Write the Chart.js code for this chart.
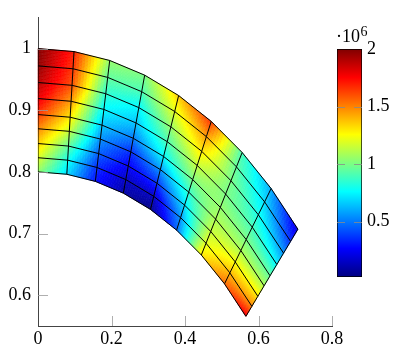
<!DOCTYPE html>
<html><head><meta charset="utf-8">
<script src="https://cdn.jsdelivr.net/npm/chart.js@4/dist/chart.umd.min.js"></script>
<style>
html,body{margin:0;padding:0;background:#fff;}
#wrap{position:relative;width:399px;height:351px;overflow:hidden;}
#main{position:absolute;left:0;top:0;}
#cbar{position:absolute;left:326px;top:20px;}
</style></head><body>
<div id="wrap">
<canvas id="main" width="399" height="351"></canvas>
<canvas id="cbar" width="73" height="280"></canvas>
</div>
<script>
// ---------- data ----------
const radii = [0.8, 0.823, 0.846, 0.870, 0.893, 0.919, 0.945, 0.972, 1.0];
const anglesDeg = [0, 5.625, 11.25, 16.875, 22.5, 28.125, 33.75, 39.375, 45]; // from the y axis
// nodal stress (x 10^6), one array per ring (inner r=0.8 ... outer r=1.0), angle 0..45 deg
const ring0 = [1.05, 0.70, 0.30, 0.10, 0.03, 0.45, 1.30, 1.55, 1.80];
const ring1 = [1.20, 0.80, 0.35, 0.15, 0.15, 0.55, 1.20, 1.40, 1.50];
const ring2 = [1.35, 0.95, 0.45, 0.25, 0.35, 0.70, 1.15, 1.25, 1.30];
const ring3 = [1.50, 1.15, 0.55, 0.35, 0.55, 0.85, 1.10, 1.10, 1.10];
const ring4 = [1.65, 1.30, 0.65, 0.50, 0.75, 1.00, 1.05, 1.00, 0.95];
const ring5 = [1.80, 1.45, 0.75, 0.65, 0.90, 1.15, 1.00, 0.90, 0.75];
const ring6 = [1.90, 1.60, 0.85, 0.75, 1.05, 1.30, 1.00, 0.80, 0.55];
const ring7 = [1.97, 1.65, 0.95, 0.90, 1.20, 1.45, 0.95, 0.70, 0.35];
const ring8 = [2.00, 1.70, 1.05, 1.00, 1.35, 1.65, 0.90, 0.60, 0.20];
const xTicks = [0, 0.2, 0.4, 0.6, 0.8];
const yTicks = [0.6, 0.7, 0.8, 0.9, 1.0];
const cbTicks = [0.5, 1, 1.5, 2];
const cbMin = 0.02, cbMax = 2;

const stress = [ring0, ring1, ring2, ring3, ring4, ring5, ring6, ring7, ring8];
const FONT = "'Liberation Serif', 'DejaVu Serif', serif";

const toXY = (r, deg) => ({x: r * Math.sin(deg * Math.PI / 180), y: r * Math.cos(deg * Math.PI / 180)});
const jetStops = [[0,[0,0,128]],[1/8,[0,0,255]],[3/8,[0,255,255]],[5/8,[255,255,0]],[7/8,[255,0,0]],[1,[128,0,0]]];
function jet(t){
  t = Math.max(0, Math.min(1, t));
  for (let k = 1; k < jetStops.length; k++) {
    if (t <= jetStops[k][0]) {
      const [t0, c0] = jetStops[k-1], [t1, c1] = jetStops[k];
      const f = (t - t0) / (t1 - t0);
      return 'rgb(' + c0.map((c, i) => Math.round(c + (c1[i] - c) * f)).join(',') + ')';
    }
  }
  return 'rgb(128,0,0)';
}
const fmt = v => String(Math.round(v * 10) / 10);

// ---------- mesh lines ----------
const lineStyle = {showLine: true, borderColor: '#000', borderWidth: 1, pointRadius: 0, fill: false, tension: 0};
const datasets = [];
radii.forEach(r => datasets.push(Object.assign({data: anglesDeg.map(a => toXY(r, a))}, lineStyle)));
anglesDeg.forEach(a => datasets.push(Object.assign({data: radii.map(r => toXY(r, a))}, lineStyle)));

const meshFill = {
  id: 'meshFill',
  beforeDatasetsDraw(chart) {
    const {ctx, scales: {x: sx, y: sy}} = chart;
    const N = 12;
    ctx.save();
    for (let i = 0; i < radii.length - 1; i++) for (let j = 0; j < anglesDeg.length - 1; j++) {
      const P00 = toXY(radii[i], anglesDeg[j]), P01 = toXY(radii[i], anglesDeg[j+1]);
      const P10 = toXY(radii[i+1], anglesDeg[j]), P11 = toXY(radii[i+1], anglesDeg[j+1]);
      const V00 = stress[i][j], V01 = stress[i][j+1], V10 = stress[i+1][j], V11 = stress[i+1][j+1];
      const pt = (u, v) => {
        const x = (1-u)*(1-v)*P00.x + u*(1-v)*P01.x + (1-u)*v*P10.x + u*v*P11.x;
        const y = (1-u)*(1-v)*P00.y + u*(1-v)*P01.y + (1-u)*v*P10.y + u*v*P11.y;
        return [sx.getPixelForValue(x), sy.getPixelForValue(y)];
      };
      for (let a = 0; a < N; a++) for (let b = 0; b < N; b++) {
        const c1 = pt(a/N, b/N), c2 = pt((a+1)/N, b/N), c3 = pt((a+1)/N, (b+1)/N), c4 = pt(a/N, (b+1)/N);
        const u = (a + 0.5) / N, v = (b + 0.5) / N;
        const val = (1-u)*(1-v)*V00 + u*(1-v)*V01 + (1-u)*v*V10 + u*v*V11;
        const col = jet((val - cbMin) / (cbMax - cbMin));
        ctx.beginPath();
        ctx.moveTo(c1[0], c1[1]); ctx.lineTo(c2[0], c2[1]); ctx.lineTo(c3[0], c3[1]); ctx.lineTo(c4[0], c4[1]);
        ctx.closePath();
        ctx.fillStyle = col; ctx.strokeStyle = col; ctx.lineWidth = 0.6;
        ctx.fill(); ctx.stroke();
      }
    }
    ctx.restore();
  }
};

const innerTicks = {
  id: 'innerTicks',
  afterDatasetsDraw(chart) {
    const {ctx, chartArea: ca, scales: {x: sx, y: sy}} = chart;
    ctx.save();
    ctx.strokeStyle = '#9a9a9a'; ctx.lineWidth = 0.8;
    xTicks.forEach(t => { if (t === 0) return; const px = Math.round(sx.getPixelForValue(t)) + 0.5;
      ctx.beginPath(); ctx.moveTo(px, ca.bottom); ctx.lineTo(px, ca.bottom - 10); ctx.stroke(); });
    yTicks.forEach(t => { const py = Math.round(sy.getPixelForValue(t)) + 0.5;
      ctx.beginPath(); ctx.moveTo(ca.left, py); ctx.lineTo(ca.left + 10, py); ctx.stroke(); });
    ctx.restore();
  }
};

new Chart(document.getElementById('main'), {
  type: 'scatter',
  data: {datasets},
  options: {
    responsive: false, animation: false, devicePixelRatio: 1,
    layout: {padding: {left: 0, right: 67, top: 0, bottom: 0}},
    plugins: {legend: {display: false}, tooltip: {enabled: false}},
    scales: {
      x: {
        type: 'linear', min: 0, max: 0.8,
        afterBuildTicks: s => { s.ticks = xTicks.map(v => ({value: v})); },
        afterFit: s => { s.height = 25; },
        ticks: {callback: v => fmt(v), font: {family: FONT, size: 18}, color: '#000', padding: 2, maxRotation: 0, autoSkip: false},
        grid: {display: false, drawTicks: false},
        border: {display: true, color: '#444', width: 1}
      },
      y: {
        type: 'linear', min: 0.55, max: 1.05,
        afterBuildTicks: s => { s.ticks = yTicks.map(v => ({value: v})); },
        afterFit: s => { s.width = 38; },
        ticks: {callback: v => fmt(v), font: {family: FONT, size: 18}, color: '#000', padding: 7, autoSkip: false},
        grid: {display: false, drawTicks: false},
        border: {display: true, color: '#444', width: 1}
      }
    }
  },
  plugins: [meshFill, innerTicks]
});

// ---------- colorbar ----------
const cbDeco = {
  id: 'cbDeco',
  afterDatasetsDraw(chart) {
    const {ctx, chartArea: ca, scales: {y}} = chart;
    ctx.save();
    ctx.strokeStyle = '#8a8a8a'; ctx.lineWidth = 0.8;
    cbTicks.forEach(t => { if (t >= cbMax) return; const py = Math.round(y.getPixelForValue(t)) + 0.5;
      ctx.beginPath(); ctx.moveTo(ca.left, py); ctx.lineTo(ca.left + 8, py);
      ctx.moveTo(ca.right, py); ctx.lineTo(ca.right - 8, py); ctx.stroke(); });
    ctx.fillStyle = '#000'; ctx.textBaseline = 'alphabetic'; ctx.textAlign = 'left';
    ctx.font = '18px ' + FONT;
    ctx.fillText('\u00b710', 10, 22);
    const w = ctx.measureText('\u00b710').width;
    ctx.font = '14px ' + FONT;
    ctx.fillText('6', 10 + w + 0.5, 16);
    ctx.restore();
  }
};

new Chart(document.getElementById('cbar'), {
  type: 'bar',
  data: {labels: [''], datasets: [{
    data: [[cbMin, cbMax]],
    backgroundColor: (c) => {
      const ch = c.chart; if (!ch.chartArea) return '#888';
      const y = ch.scales.y;
      const g = ch.ctx.createLinearGradient(0, y.getPixelForValue(cbMin), 0, y.getPixelForValue(cbMax));
      jetStops.forEach(([t, col]) => g.addColorStop(t, 'rgb(' + col.join(',') + ')'));
      return g;
    },
    borderColor: '#000', borderWidth: 1, borderSkipped: false,
    barPercentage: 1, categoryPercentage: 1
  }]},
  options: {
    responsive: false, animation: false, devicePixelRatio: 1,
    layout: {padding: {left: 11, right: 0, top: 29, bottom: 23}},
    plugins: {legend: {display: false}, tooltip: {enabled: false}},
    scales: {
      x: {display: false},
      y: {
        position: 'right', min: cbMin, max: cbMax,
        afterBuildTicks: s => { s.ticks = cbTicks.map(v => ({value: v})); },
        afterFit: s => { s.width = 37; },
        ticks: {callback: v => fmt(v), font: {family: FONT, size: 18}, color: '#000', padding: 5, autoSkip: false},
        grid: {display: false, drawTicks: false},
        border: {display: false}
      }
    }
  },
  plugins: [cbDeco]
});
</script>
</body></html>
